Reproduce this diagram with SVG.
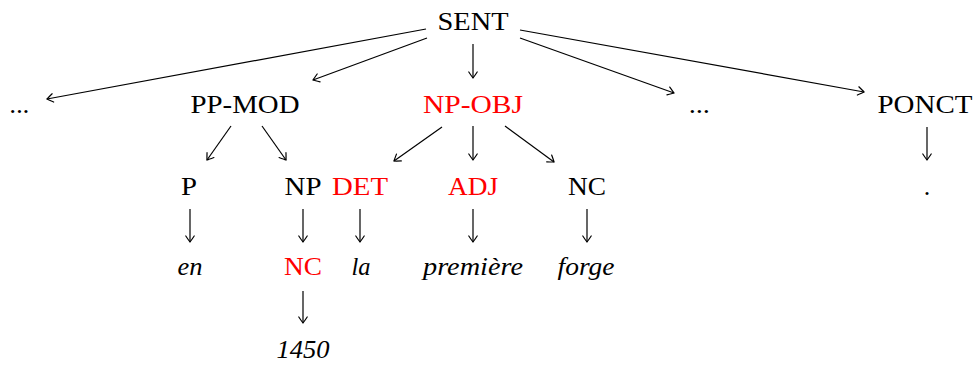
<svg xmlns="http://www.w3.org/2000/svg" width="976" height="365" viewBox="0 0 976 365">
<defs>
<marker id="ah" markerWidth="12" markerHeight="12" refX="0" refY="0" viewBox="-7 -6 9 12" markerUnits="userSpaceOnUse" orient="auto" overflow="visible">
<path d="M -6 -4.2 Q -1.5 -1.2 0 0 Q -1.5 1.2 -6 4.2" fill="none" stroke="#000" stroke-width="1.2" stroke-linecap="round"/>
</marker>
<style>
text{font-family:"Liberation Serif","Times New Roman",serif;font-size:26px;text-anchor:middle;fill:#000}
.r{fill:#ff0000}
.i{font-style:italic}
.e line{stroke:#000;stroke-width:1.2;marker-end:url(#ah)}
</style>
</defs>
<rect width="976" height="365" fill="#fff"/>
<g id="n-sent"><text x="473" y="30" textLength="71" lengthAdjust="spacingAndGlyphs">SENT</text></g>
<g id="n-dots1"><text x="20" y="113" class="i" textLength="20" lengthAdjust="spacingAndGlyphs">...</text></g>
<g id="n-ppmod"><text x="245" y="113" textLength="109" lengthAdjust="spacingAndGlyphs">PP-MOD</text></g>
<g id="n-npobj"><text x="473" y="113" class="r" textLength="100" lengthAdjust="spacingAndGlyphs">NP-OBJ</text></g>
<g id="n-dots2"><text x="700" y="113" class="i" textLength="21" lengthAdjust="spacingAndGlyphs">...</text></g>
<g id="n-ponct"><text x="925" y="113" textLength="95" lengthAdjust="spacingAndGlyphs">PONCT</text></g>
<g id="n-p"><text x="189" y="195" textLength="16" lengthAdjust="spacingAndGlyphs">P</text></g>
<g id="n-np"><text x="303" y="195" textLength="37" lengthAdjust="spacingAndGlyphs">NP</text></g>
<g id="n-det"><text x="360" y="195" class="r" textLength="56" lengthAdjust="spacingAndGlyphs">DET</text></g>
<g id="n-adj"><text x="473" y="195" class="r" textLength="50" lengthAdjust="spacingAndGlyphs">ADJ</text></g>
<g id="n-nc"><text x="587" y="195" textLength="38" lengthAdjust="spacingAndGlyphs">NC</text></g>
<g id="n-dot"><text x="927" y="195">.</text></g>
<g id="n-en"><text x="190" y="275" class="i" textLength="25" lengthAdjust="spacingAndGlyphs">en</text></g>
<g id="n-nc2"><text x="303" y="275" class="r" textLength="38" lengthAdjust="spacingAndGlyphs">NC</text></g>
<g id="n-la"><text x="361" y="275" class="i" textLength="19" lengthAdjust="spacingAndGlyphs">la</text></g>
<g id="n-premiere"><text x="473" y="275" class="i" textLength="100" lengthAdjust="spacingAndGlyphs">première</text></g>
<g id="n-forge"><text x="586" y="275" class="i" textLength="57" lengthAdjust="spacingAndGlyphs">forge</text></g>
<g id="n-1450"><text x="303" y="358" class="i" textLength="53" lengthAdjust="spacingAndGlyphs">1450</text></g>
<g id="edges" class="e">
<line x1="426" y1="29" x2="47" y2="99"/>
<line x1="427" y1="38" x2="313" y2="80"/>
<line x1="473" y1="44" x2="473" y2="78"/>
<line x1="520" y1="38" x2="674" y2="93"/>
<line x1="520" y1="30" x2="864" y2="92"/>
<line x1="231" y1="126" x2="207" y2="160"/>
<line x1="262" y1="126" x2="286" y2="160"/>
<line x1="442" y1="127" x2="394" y2="161"/>
<line x1="473" y1="126" x2="473" y2="160"/>
<line x1="505" y1="126" x2="554" y2="162"/>
<line x1="927" y1="127" x2="927" y2="160"/>
<line x1="190" y1="209" x2="190" y2="242"/>
<line x1="303" y1="209" x2="303" y2="242"/>
<line x1="360" y1="209" x2="360" y2="242"/>
<line x1="473" y1="209" x2="473" y2="242"/>
<line x1="587" y1="209" x2="587" y2="242"/>
<line x1="303" y1="291" x2="303" y2="323"/>
</g>
</svg>
